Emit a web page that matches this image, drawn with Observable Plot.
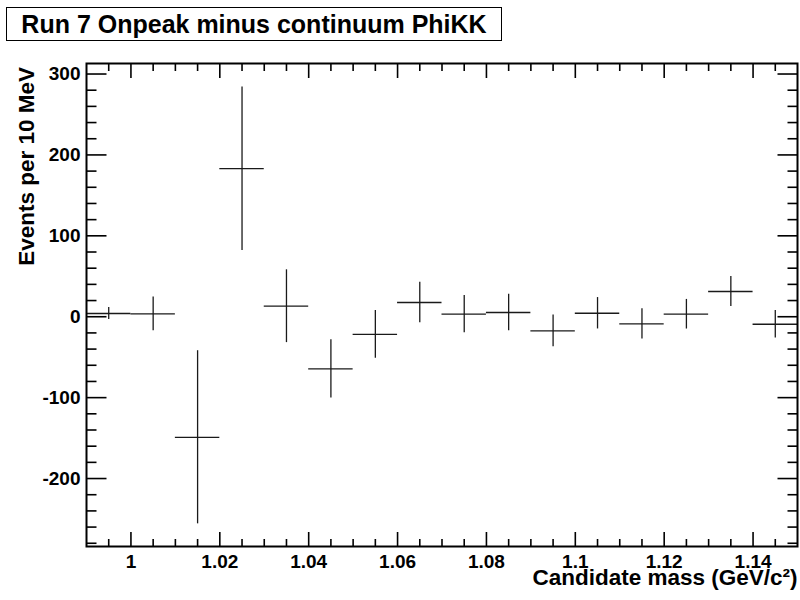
<!DOCTYPE html>
<html>
<head>
<meta charset="utf-8">
<script src="https://cdn.jsdelivr.net/npm/d3@7"></script>
<script src="https://cdn.jsdelivr.net/npm/@observablehq/plot@0.6"></script>
<style>
  html, body { margin: 0; padding: 0; background: #fff; }
  #wrap { position: relative; width: 800px; height: 600px; font-family: "Liberation Sans", Arial, Helvetica, sans-serif; }
  #title {
    position: absolute; left: 6px; top: 7px; width: 494px; height: 32px;
    border: 1.3px solid #000; background: #fff; box-sizing: content-box;
    font-weight: bold; font-size: 25px; line-height: 32px; text-align: center; color: #000;
    white-space: nowrap; z-index: 2;
  }
  #chart { position: absolute; left: 0; top: 0; }
</style>
</head>
<body>
<div id="wrap">
  <div id="chart"></div>
  <div id="title">Run 7 Onpeak minus continuum PhiKK</div>
</div>
<script>
// ---- data ----
const binCenters = [0.995, 1.005, 1.015, 1.025, 1.035, 1.045, 1.055, 1.065, 1.075, 1.085, 1.095, 1.105, 1.115, 1.125, 1.135, 1.145];
const binValues  = [4, 3.5, -149, 183, 13, -64.5, -21.7, 17.6, 3.1, 5.2, -17.5, 4.3, -8.8, 3.1, 31.2, -9.3];
const binErrors  = [7.4, 20.8, 107, 101, 45, 36, 29.5, 25, 23, 22.5, 19.6, 19.4, 18.6, 18.3, 18.6, 17];
const binHalfWidth = 0.005;

const xMajorTicks = [1, 1.02, 1.04, 1.06, 1.08, 1.1, 1.12, 1.14];
const xMinorTicks = [0.995, 1.005, 1.01, 1.015, 1.025, 1.03, 1.035, 1.045, 1.05, 1.055, 1.065, 1.07, 1.075,
                     1.085, 1.09, 1.095, 1.105, 1.11, 1.115, 1.125, 1.13, 1.135, 1.145];
const yMajorTicks = [-200, -100, 0, 100, 200, 300];
const yMinorTicks = [-280, -260, -240, -220, -180, -160, -140, -120, -80, -60, -40, -20,
                     20, 40, 60, 80, 120, 140, 160, 180, 220, 240, 260, 280];

const xDomain = [0.99, 1.15];
const yDomain = [-284, 313];

const xTitle = ["Candidate mass (GeV/c²)"];
const yTitle = ["Events per 10 MeV"];

const bins = binCenters.map((c, i) => ({
  x: c, x1: c - binHalfWidth, x2: c + binHalfWidth,
  y: binValues[i], lo: binValues[i] - binErrors[i], hi: binValues[i] + binErrors[i]
}));

const FONT = '"Liberation Sans", Arial, Helvetica, sans-serif';
const lineColor = "#1a1a1a";
const plainFormat = d => String(d);

const chart = Plot.plot({
  width: 800,
  height: 600,
  marginLeft: 86,
  marginRight: 3,
  marginTop: 63,
  marginBottom: 54,
  style: { fontFamily: FONT, fontWeight: "bold", fontSize: "19px", color: "#000", background: "transparent", overflow: "visible" },
  x: { domain: xDomain },
  y: { domain: yDomain },
  marks: [
    // horizontal bin widths
    Plot.ruleY(bins, { y: "y", x1: "x1", x2: "x2", stroke: lineColor, strokeWidth: 1.3 }),
    // vertical error bars
    Plot.ruleX(bins, { x: "x", y1: "lo", y2: "hi", stroke: lineColor, strokeWidth: 1.3 }),
    // inward ticks: bottom
    Plot.axisX(xMajorTicks, { anchor: "bottom", tickSize: -14, text: null, label: null, strokeWidth: 1.6 }),
    Plot.axisX(xMinorTicks, { anchor: "bottom", tickSize: -7, text: null, label: null, strokeWidth: 1.6 }),
    // inward ticks: top
    Plot.axisX(xMajorTicks, { anchor: "top", tickSize: -14, text: null, label: null, strokeWidth: 1.6 }),
    Plot.axisX(xMinorTicks, { anchor: "top", tickSize: -7, text: null, label: null, strokeWidth: 1.6 }),
    // inward ticks: left
    Plot.axisY(yMajorTicks, { anchor: "left", tickSize: -20.5, text: null, label: null, strokeWidth: 1.6 }),
    Plot.axisY(yMinorTicks, { anchor: "left", tickSize: -10.5, text: null, label: null, strokeWidth: 1.6 }),
    // inward ticks: right
    Plot.axisY(yMajorTicks, { anchor: "right", tickSize: -20.5, text: null, label: null, strokeWidth: 1.6 }),
    Plot.axisY(yMinorTicks, { anchor: "right", tickSize: -10.5, text: null, label: null, strokeWidth: 1.6 }),
    // tick labels
    Plot.axisX(xMajorTicks, { anchor: "bottom", tickSize: 0, tickPadding: 8, tickFormat: plainFormat, label: null, fontSize: 19, fontWeight: "bold", fill: "#000" }),
    Plot.axisY(yMajorTicks, { anchor: "left", tickSize: 0, tickPadding: 6, tickFormat: plainFormat, label: null, fontSize: 19, fontWeight: "bold", fill: "#000" }),
    // frame
    Plot.frame({ stroke: "#000", strokeWidth: 2 }),
    // axis titles
    Plot.text(xTitle, { text: d => d, frameAnchor: "bottom-right", textAnchor: "end", lineAnchor: "bottom",
      dy: 38.5, dx: 0, fontSize: 22.5, fontWeight: "bold", fill: "#000" }),
    Plot.text(yTitle, { text: d => d, frameAnchor: "top-left", textAnchor: "end", lineAnchor: "middle",
      rotate: -90, dx: -60, dy: 3.5, fontSize: 22.5, fontWeight: "bold", fill: "#000" })
  ]
});

document.getElementById("chart").appendChild(chart);
</script>
</body>
</html>
